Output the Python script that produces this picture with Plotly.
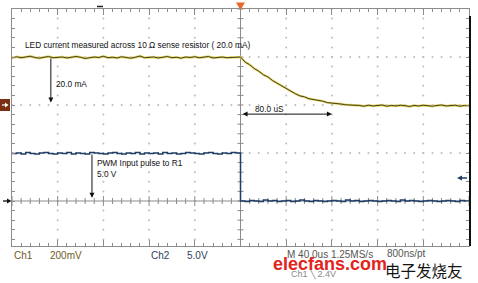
import plotly.graph_objects as go

# ---------------- data ----------------
time_us = list(range(-200, 201, 4))  # 101 samples, 40 us/div

ch1_ma = [
    19.6, 20.1, 19.7, 19.9, 20.3, 19.8, 19.5, 19.9, 20.2, 19.7,
    19.9, 20.0, 19.6, 19.8, 20.2, 19.9, 19.4, 19.7, 20.0, 19.8,
    20.3, 19.7, 19.9, 19.6, 20.1, 19.8, 19.5, 19.9, 20.4, 19.7,
    19.8, 20.0, 19.6, 19.9, 20.2, 19.7, 19.9, 19.5, 20.0, 19.8,
    20.1, 19.7, 19.9, 20.2, 19.6, 19.8, 20.0, 19.7, 19.9, 20.1,
    20.0,
    17.9, 16.8, 15.2, 14.1, 12.6, 11.7, 10.2, 9.1, 7.7, 6.7,
    5.5, 4.7, 3.8, 3.4, 2.6, 2.3, 1.7, 1.6, 1.0, 0.9,
    0.5, 0.4, 0.1, 0.1, -0.2,
    -0.2, -0.5, -0.1, -0.4, -0.3, 0.0, -0.5, -0.2, -0.4, -0.1,
    -0.3, -0.6, -0.2, -0.4, -0.1, -0.3, -0.5, -0.2, 0.0, -0.4,
    -0.3, -0.1, -0.5, -0.2, -0.3,
]

ch2_v = [
    4.95, 5.0, 4.9, 5.05, 4.95, 4.9, 5.0, 5.05, 4.95, 4.9,
    5.0, 4.95, 5.05, 4.9, 5.0, 4.95, 4.9, 5.05, 5.0, 4.95,
    4.9, 5.0, 5.05, 4.95, 4.9, 5.0, 4.95, 5.05, 4.9, 5.0,
    4.95, 5.0, 4.9, 5.05, 4.95, 5.0, 4.9, 4.95, 5.05, 5.0,
    4.95, 4.9, 5.0, 5.05, 4.95, 4.9, 5.0, 4.95, 5.05, 5.0,
    0.0, -0.05, 0.05, 0.0, -0.05, 0.1, 0.0, 0.05, -0.05, 0.0,
    0.05, -0.05, 0.0, 0.1, 0.0, -0.05, 0.05, 0.0, -0.05, 0.0,
    0.05, 0.0, -0.05, 0.1, 0.0, 0.05, -0.05, 0.0, 0.05, 0.0,
    -0.05, 0.0, 0.05, 0.0, -0.05, 0.1, 0.0, 0.05, 0.0, -0.05,
    0.0, 0.05, 0.0, -0.05, 0.0, 0.05, 0.0, -0.05, 0.05, 0.0,
    0.0,
]

ch1_scale_ma = 20.0   # 200 mV/div across 10 ohm -> 20 mA/div
ch1_offset_div = 2.0  # ch1 ground marker position
ch2_scale_v = 5.0     # 5.0 V/div
ch2_offset_div = 0.0

# ---------------- geometry ----------------
W, H = 478, 283
ML, MR, MT, MB = 12, 9, 9, 37
PW, PH = W - ML - MR, H - MT - MB
X0, X1 = -200, 200
Y0, Y1 = -0.9375, 4.0
DX = (X1 - X0) / PW   # us per px
DY = (Y1 - Y0) / PH   # div per px


def px(xp):
    return (xp - ML) / PW


def py(yp):
    return (H - MB - yp) / PH


ch1_div = [ch1_offset_div + v / ch1_scale_ma for v in ch1_ma]
ch2_div = [ch2_offset_div + v / ch2_scale_v for v in ch2_v]

fig = go.Figure()

# dotted graticule
gx, gy = [], []
for xm in range(-160, 161, 40):
    if xm == 0:
        continue
    k = 0
    while 4 - k * 0.2 >= Y0 - 1e-9:
        gx.append(xm)
        gy.append(4 - k * 0.2)
        k += 1
for ym in (1, 2, 3):
    for k in range(0, 51):
        gx.append(X0 + k * 8)
        gy.append(ym)
fig.add_trace(go.Scatter(x=gx, y=gy, mode="markers",
                         marker=dict(size=2, color="#bcbcbc"),
                         hoverinfo="skip", showlegend=False))

# center axes with ticks
axc = "#8c8c8c"
tx, ty = [X0, X1, None, 0, 0, None], [0, 0, None, Y0, Y1, None]
for k in range(0, 51):
    xx = X0 + k * 8
    half = (5 if k % 5 == 0 else 3) * DY
    tx += [xx, xx, None]
    ty += [-half, half, None]
k = -5
while k * 0.2 <= Y1 + 1e-9:
    yy = k * 0.2
    if yy >= Y0:
        tx += [-3 * DX, 3 * DX, None]
        ty += [yy, yy, None]
    k += 1
fig.add_trace(go.Scatter(x=tx, y=ty, mode="lines",
                         line=dict(color=axc, width=1),
                         hoverinfo="skip", showlegend=False))

# channel traces
fig.add_trace(go.Scatter(x=time_us, y=ch1_div, mode="lines",
                         line=dict(color="#e4d66a", width=2.4),
                         hoverinfo="skip", showlegend=False))
fig.add_trace(go.Scatter(x=time_us, y=ch1_div, mode="lines",
                         line=dict(color="#463f18", width=1.0),
                         name="Ch1", showlegend=False))
fig.add_trace(go.Scatter(x=time_us, y=ch2_div, mode="lines",
                         line=dict(color="#1f3d66", width=1.5, shape="hv"),
                         name="Ch2", showlegend=False))

txt = dict(family="Liberation Sans, Arial, sans-serif", size=8.3, color="#111111")
ann = []


def label(text, xp, yp, font, xanchor="left"):
    ann.append(dict(text=text, x=px(xp), y=py(yp), xref="paper", yref="paper",
                    xanchor=xanchor, yanchor="middle", showarrow=False,
                    font=font))


label("LED current measured across 10 \u03a9 sense resistor ( 20.0 mA)", 23, 45, txt)
label("20.0 mA", 54, 84, txt)
label("80.0 uS", 253, 109, txt)
label("PWM Input pulse to R1", 95, 163.5, txt)
label("5.0 V", 95, 173.5, txt)

# arrows
arrow = dict(showarrow=True, arrowhead=2, arrowsize=1, arrowwidth=1,
             arrowcolor="#111111", text="", xref="x", yref="y",
             axref="x", ayref="y")
ann.append(dict(arrow, x=-166, y=ch1_offset_div + 0.05, ax=-166, ay=3.0))
ann.append(dict(arrow, x=80, y=1.81, ax=0.5, ay=1.81, arrowside="end+start"))
ann.append(dict(arrow, x=-130, y=0.07, ax=-130, ay=1.0))

# bottom readout
rd = dict(family="Liberation Sans, Arial, sans-serif", size=10)
label("Ch1", 12, 256, dict(rd, color="#6e5a1e"))
label("200mV", 48, 256, dict(rd, color="#6e5a1e"))
label("Ch2", 149, 256, dict(rd, color="#2c3e5c"))
label("5.0V", 185, 256, dict(rd, color="#2c3e5c"))
label("M 40.0us 1.25MS/s", 285, 254, dict(rd, color="#555555"))
label("800ns/pt", 385, 253, dict(rd, color="#555555"))
label("Ch1 \u2572 2.4V", 289, 274, dict(rd, size=9, color="#8a8a8a"))
label("<b>elecfans.com</b>", 271, 264,
      dict(family="Liberation Sans, Arial, sans-serif", size=18, color="#e3241c"))
label("电子发烧友", 383, 270,
      dict(family="Noto Sans CJK SC", size=15.5, color="#151515"))

shapes = [
    # right thick frame edge
    dict(type="line", xref="paper", yref="paper", x0=px(470), x1=px(470),
         y0=py(16), y1=py(246), line=dict(color="#111111", width=2)),
    # ch1 ground marker
    dict(type="rect", xref="paper", yref="paper", x0=px(0), x1=px(10),
         y0=py(111), y1=py(99), fillcolor="#7b2e12", line=dict(width=0)),
    dict(type="path", xref="paper", yref="paper",
         path=f"M {px(2)},{py(105)} L {px(7)},{py(105)}",
         line=dict(color="#ffffff", width=1.2)),
    dict(type="path", xref="paper", yref="paper",
         path=f"M {px(5)},{py(102.5)} L {px(8.5)},{py(105)} L {px(5)},{py(107.5)} Z",
         fillcolor="#ffffff", line=dict(width=0)),
    # ch2 ground marker
    dict(type="path", xref="paper", yref="paper",
         path=f"M {px(3)},{py(201)} L {px(9)},{py(201)}",
         line=dict(color="#111111", width=1.3)),
    dict(type="path", xref="paper", yref="paper",
         path=f"M {px(7)},{py(198.5)} L {px(11.5)},{py(201)} L {px(7)},{py(203.5)} Z",
         fillcolor="#111111", line=dict(width=0)),
    # trigger position marker
    dict(type="path", xref="paper", yref="paper",
         path=f"M {px(236)},{py(2.5)} L {px(245)},{py(2.5)} L {px(240.5)},{py(10)} Z",
         fillcolor="#e8682a", line=dict(width=0)),
    # small top mark
    dict(type="line", xref="paper", yref="paper", x0=px(97), x1=px(103),
         y0=py(6.5), y1=py(6.5), line=dict(color="#222222", width=1.5)),
    # trigger level arrow (right)
    dict(type="path", xref="paper", yref="paper",
         path=f"M {px(460)},{py(178)} L {px(467)},{py(178)}",
         line=dict(color="#1f3d66", width=1.5)),
    dict(type="path", xref="paper", yref="paper",
         path=f"M {px(462)},{py(175.5)} L {px(457)},{py(178)} L {px(462)},{py(180.5)} Z",
         fillcolor="#1f3d66", line=dict(width=0)),
]

frame = "#8c8c8c"
fig.update_layout(
    width=W, height=H,
    margin=dict(l=ML, r=MR, t=MT, b=MB, pad=0),
    paper_bgcolor="white", plot_bgcolor="white",
    showlegend=False,
    annotations=ann, shapes=shapes,
    xaxis=dict(range=[X0, X1], showgrid=False, zeroline=False,
               showticklabels=False, showline=True, linecolor=frame,
               linewidth=1, mirror="allticks", ticks="inside",
               tick0=X0, dtick=40, ticklen=6, tickcolor=frame,
               minor=dict(dtick=8, tick0=X0, ticks="inside", ticklen=3,
                          tickcolor=frame, showgrid=False),
               fixedrange=True),
    yaxis=dict(range=[Y0, Y1], showgrid=False, zeroline=False,
               showticklabels=False, showline=True, linecolor=frame,
               linewidth=1, mirror="allticks", ticks="inside",
               tick0=0, dtick=1, ticklen=3, tickcolor=frame,
               minor=dict(dtick=0.2, tick0=0, ticks="inside", ticklen=3,
                          tickcolor=frame, showgrid=False),
               fixedrange=True),
)

fig.write_html("out.html")
